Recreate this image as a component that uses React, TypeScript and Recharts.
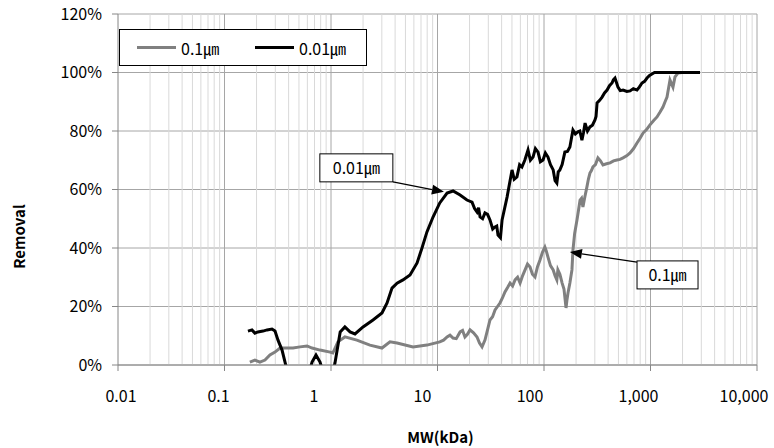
import React from 'react'
import {
  CartesianGrid,
  Legend,
  Line,
  LineChart,
  ReferenceDot,
  ReferenceLine,
  XAxis,
  YAxis,
} from 'recharts'

// 0.1㎛ membrane: molecular weight (kDa) vs removal (%)
const mw01 = [
  0.173, 0.193, 0.215, 0.24, 0.267, 0.298, 0.332, 0.386, 0.44, 0.512, 0.596, 0.664, 0.789, 0.98, 1.04,
  1.16, 1.35, 1.75, 2.32, 3.01, 3.58, 4.17, 5.89, 7.96, 10.5, 11.4, 12.3, 13.1, 14.0, 15.0, 16.3, 17.2,
  18.1, 19.1, 20.2, 21.8, 23.5, 24.8, 26.2, 27.9, 29.5, 31.1, 32.9, 34.7, 36.6, 38.6, 40.8, 43.0, 45.5,
  48.0, 50.7, 53.5, 56.5, 59.6, 62.9, 66.4, 70.0, 73.9, 77.9, 82.3, 86.8, 91.7, 96.7, 102, 105, 109, 115,
  122, 127, 132, 135, 141, 148, 154, 161, 164, 168, 175, 183, 187, 194, 204, 211, 218, 225, 232, 242, 253,
  261, 270, 279, 288, 304, 321, 339, 358, 386, 417, 450, 484, 517, 552, 597, 643, 694, 747, 798, 851, 918,
  989, 1066, 1151, 1230, 1309, 1370, 1429, 1524, 1626, 1698, 1811, 1977,
]
const removal01 = [
  1.0, 1.7, 1.0, 1.7, 3.4, 4.4, 5.8, 5.8, 5.8, 6.2, 6.5, 5.8, 5.1, 4.4, 4.1,
  7.9, 9.6, 8.5, 6.8, 5.8, 7.9, 7.5, 6.2, 6.8, 7.9, 8.5, 9.6, 10.2, 9.2, 9.0, 11.3, 11.8,
  9.6, 10.5, 12.0, 11.0, 9.6, 7.5, 6.2, 8.5, 12.0, 15.4, 16.5, 18.8, 20.0, 21.2, 23.0, 25.0, 26.5,
  28.0, 27.0, 29.1, 30.0, 28.0, 30.5, 32.5, 34.5, 33.5, 31.0, 30.1, 33.5, 35.9, 38.5, 40.3, 39.0, 36.9, 34.0,
  32.5, 30.5, 29.1, 32.5, 31.0, 28.0, 26.0, 19.5, 22.0, 24.6, 28.0, 32.5, 39.3, 45.0, 49.6, 53.0, 56.4, 57.0, 54.0, 57.5, 60.9,
  63.5, 65.6, 66.5, 67.7, 68.5, 70.8, 69.8, 68.4, 68.8, 69.1, 69.8, 70.1, 70.3, 70.8, 71.5, 72.5, 74.0, 75.9, 77.5, 79.3, 80.5,
  82.1, 83.5, 84.8, 86.5, 88.2, 90.0, 91.6, 97.4, 95.0, 98.5, 99.8, 100,
]

// 0.01㎛ membrane (negative values fall below the 0% floor and get clipped)
const mw001 = [
  0.166, 0.181, 0.193, 0.206, 0.23, 0.251, 0.279, 0.298, 0.318, 0.347, 0.37, 0.412, 0.512, 0.608, 0.664,
  0.723, 0.789, 0.879, 0.98, 1.09, 1.22, 1.35, 1.51, 1.68, 2.0, 2.48, 3.01, 3.36, 3.74, 4.17, 4.74, 5.52,
  6.43, 7.15, 7.96, 9.08, 10.5, 12.3, 14.0, 16.3, 18.9, 21.1, 22.3, 23.5, 24.3, 25.1, 26.5, 27.9, 29.5,
  31.1, 33.0, 34.7, 36.0, 37.0, 39.0, 40.4, 45.0, 50.1, 52.5, 55.7, 59.0, 62.1, 66.0, 70.8, 74.5, 78.9,
  83.0, 87.9, 92.5, 97.9, 103, 109, 115, 122, 127, 132, 136, 141, 148, 157, 166, 175, 181, 187, 197, 208,
  217, 227, 235, 243, 256, 270, 285, 301, 308, 315, 333, 351, 370, 391, 412, 435, 448, 464, 480, 495, 520,
  552, 600, 643, 690, 747, 785, 832, 880, 927, 980, 1033, 1090, 1151, 2506, 2917,
]
const removal001 = [
  11.6, 12.0, 10.9, 11.3, 11.6, 12.0, 12.3, 11.6, 8.5, 5.1, 1.0, -6, -10, -4, 1.0,
  3.4, 1.0, -5, -6, 0.7, 11.3, 13.0, 11.3, 10.6, 13.0, 15.4, 17.8, 21.2, 26.3, 28.0, 29.1, 30.8,
  34.9, 40.0, 45.5, 50.6, 55.4, 58.8, 59.5, 58.1, 56.4, 55.7, 53.5, 52.3, 53.8, 50.6, 50.0, 52.0, 51.5,
  49.6, 46.5, 47.2, 47.5, 44.4, 43.5, 49.6, 57.4, 66.7, 63.5, 64.3, 68.5, 67.7, 70.0, 73.5, 70.0, 71.1,
  74.0, 72.8, 69.5, 70.1, 72.5, 71.1, 68.5, 66.7, 63.0, 62.2, 66.0, 66.7, 68.5, 72.8, 73.0, 74.5, 77.5, 80.3, 79.0, 79.7,
  80.0, 76.9, 79.5, 82.7, 80.0, 81.4, 82.0, 83.8, 85.0, 89.6, 90.5, 91.6, 93.0, 94.0, 95.5, 96.4, 97.5, 98.1, 96.5, 95.0, 93.8,
  94.0, 93.5, 93.7, 94.5, 94.0, 95.0, 96.4, 97.0, 98.1, 99.0, 99.5, 100, 100, 100, 100,
]

const xTicks = [0.01, 0.1, 1, 10, 100, 1000, 10000]
const xTickLabels = ['0.01', '0.1', '1', '10', '100', '1,000', '10,000']
const xLabelNudge = [3, -6, -17, -15, -14, -12, -10]
const yTicks = [0, 20, 40, 60, 80, 100, 120]

// 2..9 within every decade
const minorTicks: number[] = []
for (let i = 0; i < 6; i++) {
  for (let m = 2; m <= 9; m++) minorTicks.push(Number((m * xTicks[i]).toPrecision(3)))
}

const series01 = mw01.map((x, i) => ({ x, y: removal01[i] }))
const series001 = mw001.map((x, i) => ({ x, y: removal001[i] }))

const FONT = '"Noto Sans CJK KR", "Noto Sans", sans-serif'
const GRAY = '#808080'
const MAJOR = '#a6a6a6'
const MINOR = '#d9d9d9'

function XTick(props: any) {
  const { x, y, index } = props
  return (
    <text x={x + xLabelNudge[index]} y={y + 29} textAnchor="middle" fontSize={16} fontFamily={FONT} fill="#000">
      {xTickLabels[index]}
    </text>
  )
}

function Arrow(props: any) {
  const { x1, y1, x2, y2 } = props
  const a = Math.atan2(y2 - y1, x2 - x1)
  const len = 12
  const hw = 5
  const bx = x2 - len * Math.cos(a)
  const by = y2 - len * Math.sin(a)
  const pts = [
    `${x2},${y2}`,
    `${bx - hw * Math.sin(a)},${by + hw * Math.cos(a)}`,
    `${bx + hw * Math.sin(a)},${by - hw * Math.cos(a)}`,
  ].join(' ')
  return (
    <g>
      <line x1={x1} y1={y1} x2={bx} y2={by} stroke="#000" strokeWidth={1.2} />
      <polygon points={pts} fill="#000" />
    </g>
  )
}

function callout(text: string, w: number) {
  return (props: any) => {
    const { cx, cy } = props
    return (
      <g>
        <rect x={cx - w / 2} y={cy - 14} width={w} height={28} fill="#fff" stroke="#000" strokeWidth={1} />
        <text x={cx} y={cy + 6} textAnchor="middle" fontSize={16} fontFamily={FONT} fill="#000">
          {text}
        </text>
      </g>
    )
  }
}

function LegendBox() {
  const item = (color: string, text: string, width: number) => (
    <div style={{ display: 'flex', alignItems: 'center', width }}>
      <span style={{ display: 'inline-block', width: 39, height: 3, background: color, marginRight: 5 }} />
      <span>{text}</span>
    </div>
  )
  return (
    <div
      style={{
        boxSizing: 'border-box',
        width: 248,
        height: 37,
        border: '1px solid #000',
        background: '#fff',
        display: 'flex',
        alignItems: 'center',
        paddingLeft: 17,
        fontFamily: FONT,
        fontSize: 16,
        color: '#000',
      }}
    >
      {item(GRAY, '0.1㎛', 118)}
      {item('#000', '0.01㎛', 110)}
    </div>
  )
}

export default function App() {
  return (
    <div style={{ position: 'absolute', left: 0, top: 0, background: '#fff' }}>
      <LineChart width={774} height={448} margin={{ top: 14, right: 17, bottom: 0, left: 0 }}>
        <CartesianGrid vertical={false} stroke={MAJOR} strokeWidth={1} />
        {minorTicks.map((v) => (
          <ReferenceLine key={`m${v}`} x={v} stroke={MINOR} strokeWidth={1} />
        ))}
        {xTicks.slice(1).map((v) => (
          <ReferenceLine key={`M${v}`} x={v} stroke={MAJOR} strokeWidth={1} />
        ))}
        <XAxis
          type="number"
          dataKey="x"
          scale="log"
          domain={[0.01, 10000]}
          ticks={xTicks}
          allowDataOverflow
          height={83}
          tickSize={6}
          axisLine={{ stroke: '#868686' }}
          tickLine={{ stroke: '#868686' }}
          tick={<XTick />}
          label={{
            value: 'MW(kDa)',
            position: 'insideBottom',
            offset: 5,
            dx: 3,
            style: { fontFamily: FONT, fontSize: 15, fontWeight: 700, fill: '#000' },
          }}
        />
        <YAxis
          type="number"
          domain={[0, 120]}
          ticks={yTicks}
          allowDataOverflow
          width={118}
          tickSize={6}
          tickMargin={10}
          axisLine={{ stroke: '#868686' }}
          tickLine={{ stroke: '#868686' }}
          tickFormatter={(v: number) => `${v}%`}
          tick={{ fontFamily: FONT, fontSize: 16, fill: '#000' }}
          label={{
            value: 'Removal',
            angle: -90,
            position: 'insideLeft',
            offset: 20,
            dy: 47,
            style: { fontFamily: FONT, fontSize: 15, fontWeight: 700, fill: '#000', textAnchor: 'middle' },
          }}
        />
        <Line
          data={series01}
          dataKey="y"
          name="0.1㎛"
          stroke={GRAY}
          strokeWidth={3}
          dot={false}
          isAnimationActive={false}
        />
        <Line
          data={series001}
          dataKey="y"
          name="0.01㎛"
          stroke="#000"
          strokeWidth={3}
          dot={false}
          isAnimationActive={false}
        />
        <ReferenceLine
          segment={[
            { x: 3.82, y: 62.6 },
            { x: 11.5, y: 59.2 },
          ]}
          shape={Arrow}
        />
        <ReferenceLine
          segment={[
            { x: 747, y: 35.2 },
            { x: 175, y: 38.6 },
          ]}
          shape={Arrow}
        />
        <ReferenceDot x={1.73} y={67.4} r={1} shape={callout('0.01㎛', 73)} />
        <ReferenceDot x={1445} y={30.8} r={1} shape={callout('0.1㎛', 61)} />
        <Legend
          layout="horizontal"
          verticalAlign="middle"
          align="center"
          wrapperStyle={{ left: 119, top: 29, width: 248 }}
          content={() => <LegendBox />}
        />
      </LineChart>
    </div>
  )
}
